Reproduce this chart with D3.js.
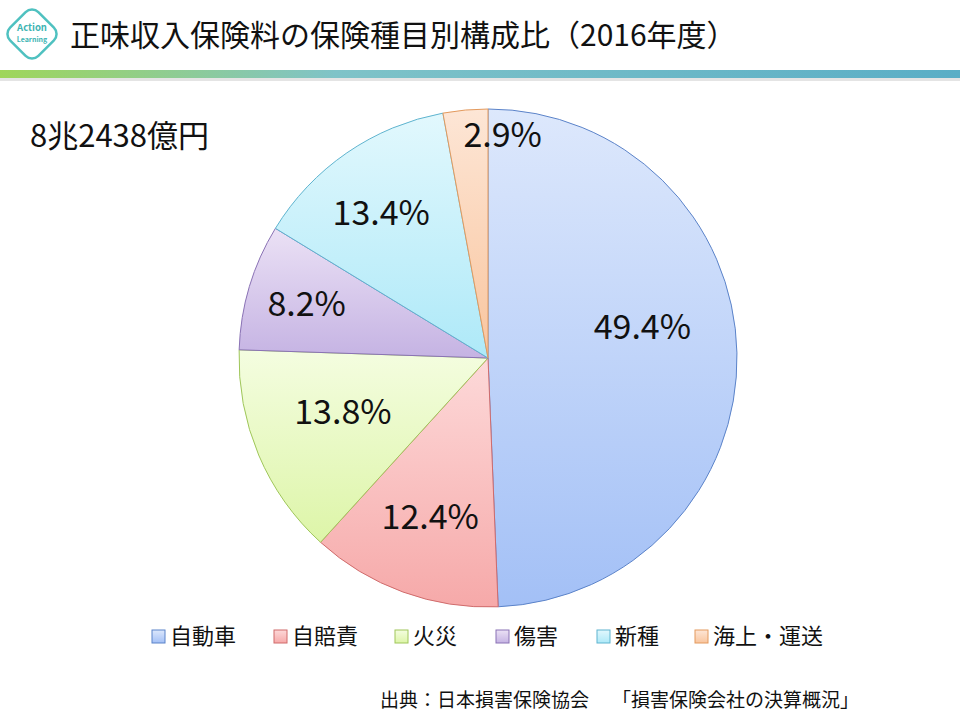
<!DOCTYPE html>
<html><head><meta charset="utf-8">
<script src="https://cdn.jsdelivr.net/npm/d3@7"></script>
<style>body{margin:0;background:#fff}text{font-family:"Noto Sans CJK JP",sans-serif}</style>
</head><body><div id="chart"></div>
<script>
// data
var categories = ["自動車", "自賠責", "火災", "傷害", "新種", "海上・運送"];
var shares = [49.4, 12.4, 13.8, 8.2, 13.4, 2.9];
var labels = ["49.4%", "12.4%", "13.8%", "8.2%", "13.4%", "2.9%"];
var lightColors = ["#dde8fc", "#fdd9d9", "#f4fde0", "#ebe1f5", "#e2f8fd", "#fde6d6"];
var darkColors = ["#a3c0f6", "#f6a9a9", "#ddf5a8", "#c5b3e3", "#aee9f8", "#f9c59e"];
var strokeColors = ["#5b83c9", "#d06b6b", "#9fc65a", "#8a72b5", "#5fb4cf", "#e39a5e"];

var width = 960, height = 720;
var cx = 488, cy = 358, radius = 249;

var svg = d3.select("#chart").append("svg")
    .attr("width", width).attr("height", height);
var defs = svg.append("defs");

// header
svg.append("text").attr("x", 70).attr("y", 46)
    .attr("font-size", 30).attr("fill", "#111")
    .text("正味収入保険料の保険種目別構成比（2016年度）");

var hg = defs.append("linearGradient").attr("id", "hbar");
hg.append("stop").attr("offset", "0%").attr("stop-color", "#9fd65a");
hg.append("stop").attr("offset", "35%").attr("stop-color", "#7fc3c8");
hg.append("stop").attr("offset", "100%").attr("stop-color", "#5aaec6");
svg.append("rect").attr("x", 0).attr("y", 70).attr("width", width).attr("height", 8)
    .attr("fill", "url(#hbar)");
svg.append("rect").attr("x", 0).attr("y", 78).attr("width", width).attr("height", 3)
    .attr("fill", "#e4e4e4");

// logo
var logo = svg.append("g").attr("transform", "translate(32,34)");
logo.append("rect").attr("x", -20).attr("y", -20).attr("width", 40).attr("height", 40)
    .attr("rx", 9).attr("transform", "rotate(45)")
    .attr("fill", "#fff").attr("stroke", "#4fc1c0").attr("stroke-width", 2.5);
logo.append("text").attr("text-anchor", "middle").attr("y", -3)
    .attr("font-size", 9.5).attr("fill", "#3fb5b4").attr("font-weight", "bold").text("Action");
logo.append("text").attr("text-anchor", "middle").attr("y", 8)
    .attr("font-size", 7).attr("fill", "#3fb5b4").attr("font-weight", "bold").text("Learning");

svg.append("text").attr("x", 30).attr("y", 147).attr("font-size", 31)
    .attr("fill", "#111").text("8兆2438億円");

// gradients per slice
categories.forEach(function(c, i) {
  var g = defs.append("linearGradient").attr("id", "g" + i)
      .attr("x1", 0).attr("y1", 0).attr("x2", 0).attr("y2", 1);
  g.append("stop").attr("offset", "0%").attr("stop-color", lightColors[i]);
  g.append("stop").attr("offset", "100%").attr("stop-color", darkColors[i]);
});

var pie = d3.pie().sort(null).value(function(d) { return d; });
var arcs = pie(shares);
var arc = d3.arc().innerRadius(0).outerRadius(radius);

var g = svg.append("g").attr("transform", "translate(" + cx + "," + cy + ")");
g.selectAll("path").data(arcs).enter().append("path")
    .attr("d", arc)
    .attr("fill", function(d, i) { return "url(#g" + i + ")"; })
    .attr("stroke", function(d, i) { return strokeColors[i]; })
    .attr("stroke-width", 1);

// label placement tweaks (pixels)
var labelR = [0.62, 0.68, 0.72, 0.76, 0.7, 0.9];
var labelShift = [[0, -28], [0, 0], [20, -16], [0, 0], [-8, -2], [35, 0]];
g.selectAll("text.lab").data(arcs).enter().append("text")
    .attr("class", "lab")
    .attr("transform", function(d, i) {
      var a = d3.arc().innerRadius(radius * labelR[i]).outerRadius(radius * labelR[i]);
      var c = a.centroid(d);
      return "translate(" + (c[0] + labelShift[i][0]) + "," + (c[1] + labelShift[i][1]) + ")";
    })
    .attr("text-anchor", "middle").attr("dy", "0.36em")
    .attr("font-size", 34).attr("fill", "#111")
    .text(function(d, i) { return labels[i]; });

// legend
var legendX = [152, 274, 395, 496, 597, 695];
var lg = svg.append("g").selectAll("g").data(categories).enter().append("g")
    .attr("transform", function(d, i) { return "translate(" + legendX[i] + ",630)"; });
lg.append("rect").attr("width", 13).attr("height", 13)
    .attr("fill", function(d, i) { return "url(#g" + i + ")"; })
    .attr("stroke", function(d, i) { return strokeColors[i]; });
lg.append("text").attr("x", 18).attr("y", 14).attr("font-size", 22).attr("fill", "#111")
    .text(function(d) { return d; });

svg.append("text").attr("x", 380).attr("y", 707).attr("font-size", 19).attr("fill", "#111")
    .text("出典：日本損害保険協会");
svg.append("text").attr("x", 612).attr("y", 707).attr("font-size", 19).attr("fill", "#111")
    .text("「損害保険会社の決算概況」");
</script></body></html>
